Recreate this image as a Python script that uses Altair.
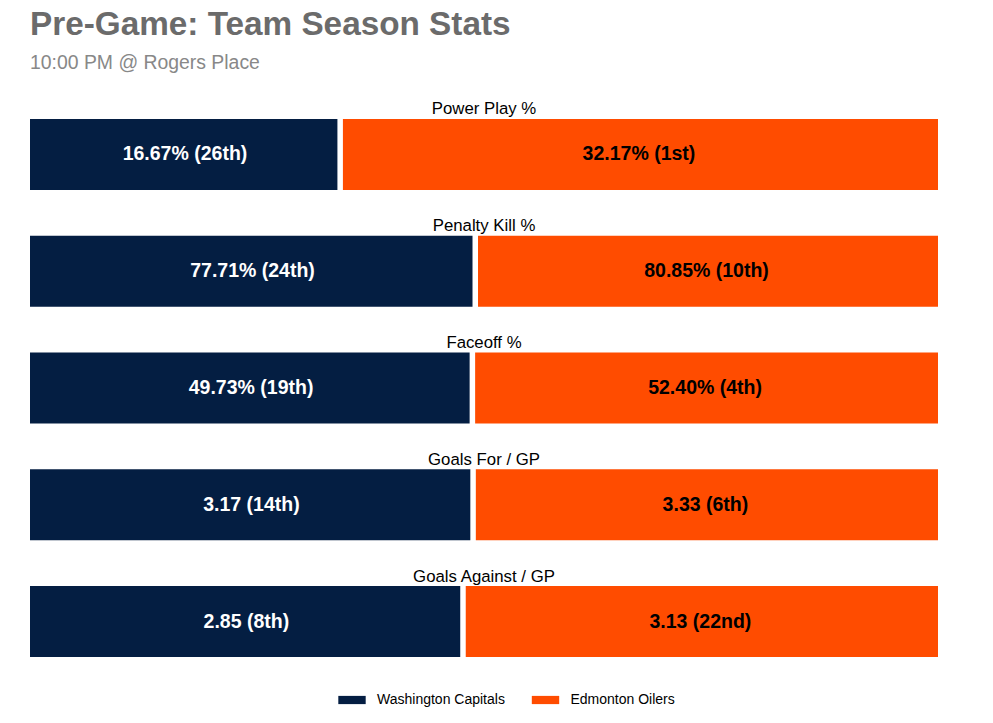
import altair as alt
import pandas as pd

metrics = ["Power Play %", "Penalty Kill %", "Faceoff %", "Goals For / GP", "Goals Against / GP"]
teams = ["Washington Capitals", "Edmonton Oilers"]
cap_values = [16.67, 77.71, 49.73, 3.17, 2.85]
oil_values = [32.17, 80.85, 52.40, 3.33, 3.13]
cap_labels = ["16.67% (26th)", "77.71% (24th)", "49.73% (19th)", "3.17 (14th)", "2.85 (8th)"]
oil_labels = ["32.17% (1st)", "80.85% (10th)", "52.40% (4th)", "3.33 (6th)", "3.13 (22nd)"]
colors = ["#041E42", "#FF4C00"]

FONT = "Liberation Sans"

df = pd.DataFrame({
    "metric": metrics,
    "cap": cap_values,
    "oil": oil_values,
    "cap_label": cap_labels,
    "oil_label": oil_labels,
})

base = (
    alt.Chart(df)
    .transform_calculate(share="datum.cap / (datum.cap + datum.oil)")
    .transform_calculate(zero="0", one="1")
    .transform_calculate(cap_mid="datum.share / 2", oil_mid="(datum.share + 1) / 2")
    .transform_calculate(cap_team="'Washington Capitals'", oil_team="'Edmonton Oilers'")
)

xscale = alt.Scale(domain=[0, 1], nice=False, zero=False)
y = alt.Y("metric:N", sort=metrics, axis=None,
          scale=alt.Scale(paddingInner=0.392, paddingOuter=0.2056))

color_scale = alt.Scale(domain=teams, range=colors)
legend = alt.Legend(
    title=None, orient="none", direction="horizontal",
    legendX=308, legendY=591,
    symbolType="M-1,-0.3H1V0.3H-1Z", symbolSize=750, symbolStrokeWidth=0,
    labelFont=FONT, labelFontSize=14, labelColor="#000000",
    labelOffset=11, columnPadding=26.5, padding=0,
)

cap_bar = base.mark_bar(x2Offset=-2.5).encode(
    x=alt.X("zero:Q", scale=xscale, axis=None),
    x2="share:Q",
    y=y,
    color=alt.Color("cap_team:N", scale=color_scale, legend=legend),
)
oil_bar = base.mark_bar(xOffset=3).encode(
    x=alt.X("share:Q", scale=xscale, axis=None),
    x2="one:Q",
    y=y,
    color=alt.Color("oil_team:N", scale=color_scale, legend=legend),
)
cap_text = base.mark_text(font=FONT, fontSize=19.5, fontWeight="bold", color="#FFFFFF").encode(
    x=alt.X("cap_mid:Q", scale=xscale, axis=None), y=y, text="cap_label:N"
)
oil_text = base.mark_text(font=FONT, fontSize=19.5, fontWeight="bold", color="#000000").encode(
    x=alt.X("oil_mid:Q", scale=xscale, axis=None), y=y, text="oil_label:N"
)
metric_text = base.mark_text(font=FONT, fontSize=16.8, color="#000000", baseline="middle", dy=-45).encode(
    x=alt.datum(0.5), y=y, text="metric:N"
)

chart = (
    alt.layer(cap_bar, oil_bar, cap_text, oil_text, metric_text)
    .resolve_scale(color="shared")
    .properties(
        width=908,
        height=586,
        padding={"left": 22, "top": 0, "right": 10, "bottom": 5},
        title=alt.TitleParams(
            text="Pre-Game: Team Season Stats",
            subtitle="10:00 PM @ Rogers Place",
            anchor="start",
            font=FONT, fontSize=33.3, fontWeight="bold", color="#6B6B6B",
            subtitleFont=FONT, subtitleFontSize=19.4, subtitleColor="#888888",
            subtitlePadding=11, offset=22,
        ),
    )
    .configure_view(stroke=None)
)

chart.save("out.html", embed_options={"renderer": "svg", "actions": False})
